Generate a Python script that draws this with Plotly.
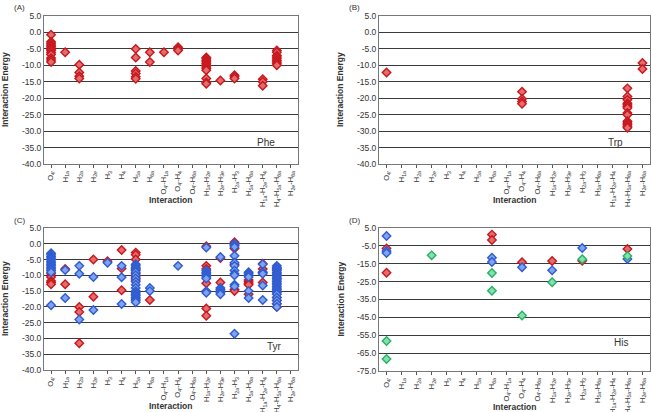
import plotly.graph_objects as go

categories = ["O<sub>4'</sub>", "H<sub>1a</sub>", "H<sub>2a</sub>", "H<sub>2e</sub>", "H<sub>3</sub>", "H<sub>4</sub>",
              "H<sub>5a</sub>", "H<sub>6a</sub>", "O<sub>4'</sub>-H<sub>1a</sub>", "O<sub>4'</sub>-H<sub>4</sub>",
              "O<sub>4'</sub>-H<sub>6a</sub>", "H<sub>1a</sub>-H<sub>2e</sub>", "H<sub>2e</sub>-H<sub>3e</sub>",
              "H<sub>2a</sub>-H<sub>3</sub>", "H<sub>5a</sub>-H<sub>6a</sub>", "H<sub>1a</sub>-H<sub>2e</sub>-H<sub>4</sub>",
              "H<sub>4</sub>-H<sub>5a</sub>-H<sub>6a</sub>", "H<sub>2e</sub>-H<sub>6a</sub>"]

# Panel A (Phe) - red: (category index, energy)
phe_red = {
    0: [-0.7, -2.8, -3.3, -3.8, -4.2, -4.7, -5.1, -5.6, -6.2, -6.7, -7.8, -8.4, -9.0],
    1: [-6.0],
    2: [-9.8, -12.2, -13.3, -14.0],
    6: [-5.0, -7.6, -11.7, -12.5, -13.5, -14.1],
    7: [-6.0, -9.0],
    8: [-6.0],
    9: [-4.5, -5.0, -5.5],
    11: [-7.6, -8.0, -8.5, -9.0, -9.5, -10.0, -10.5, -11.0, -11.5, -14.0, -15.2, -15.6],
    12: [-14.6],
    13: [-13.0, -13.5, -14.0],
    15: [-14.2, -15.0, -16.2],
    16: [-5.5, -6.0, -7.0, -7.5, -8.0, -8.5, -9.0, -9.5, -10.0],
}

# Panel B (Trp) - red
trp_red = {
    0: [-12.2],
    9: [-18.0, -20.2, -21.0, -21.7],
    16: [-17.0, -19.5, -20.5, -21.5, -22.0, -22.5, -23.0, -24.5, -25.0, -27.0, -27.5, -28.0, -28.5, -29.0],
    17: [-9.3, -11.1],
}

# Panel C (Tyr) - red and blue
tyr_red = {
    0: [-9.5, -10.5, -11.8, -12.3, -12.8],
    1: [-8.0, -12.8],
    2: [-20.0, -21.6, -31.5],
    3: [-5.0, -16.8],
    4: [-5.5],
    5: [-2.0, -7.8, -14.7],
    6: [-2.8, -3.5, -5.0, -8.0, -9.5, -10.5, -11.5],
    7: [-17.8],
    11: [-0.8, -7.0, -8.0, -12.5, -20.5, -22.8],
    12: [-4.5, -12.3],
    13: [0.5, -1.5, -6.5, -14.5, -15.0],
    14: [-11.5, -12.0, -12.5, -13.0, -16.0],
    15: [-6.3, -8.0, -9.0, -12.3],
    16: [-8.0, -10.0, -17.0, -18.0, -19.0, -20.0],
}
tyr_blue = {
    0: [-3.0, -3.5, -4.0, -4.5, -5.0, -5.5, -6.0, -6.5, -7.0, -7.5, -8.0, -8.5, -9.0, -19.5],
    1: [-8.3, -17.2],
    2: [-7.0, -9.5, -24.0],
    3: [-10.5, -21.0],
    4: [-6.0],
    5: [-7.0, -10.6, -19.1],
    6: [-6.5, -7.0, -7.5, -8.0, -8.5, -9.0, -10.0, -11.0, -12.0, -13.0, -14.0, -15.0, -15.5, -16.0, -16.5,
        -17.0, -17.5, -18.0, -18.5],
    7: [-14.0, -15.0],
    9: [-7.0],
    11: [-1.2, -8.5, -9.0, -9.5, -10.0, -10.5, -11.0, -15.0, -15.5],
    12: [-4.2, -14.0, -14.5, -15.0, -15.5, -16.0],
    13: [-0.3, 0.0, -0.5, -1.0, -3.8, -6.0, -7.0, -8.5, -9.5, -10.0, -13.0, -13.5, -28.5],
    14: [-9.0, -9.5, -10.0, -10.5, -15.0, -17.2],
    15: [-6.5, -9.0, -9.5, -13.2, -17.8],
    16: [-7.0, -7.5, -8.0, -8.5, -9.0, -9.5, -10.0, -10.5, -11.0, -11.5, -12.0, -12.5, -13.0, -13.5, -14.0,
         -14.5, -15.0, -15.5, -16.0, -17.0, -18.0, -19.0, -20.0],
}

# Panel D (His) - red, blue, green
his_red = {0: [-6.4, -20.0], 7: [1.3, -1.7], 9: [-14.2], 11: [-13.5], 13: [-13.3], 16: [-6.8]}
his_blue = {0: [0.5, -7.9, -9.0], 7: [-11.6, -14.0], 9: [-17.0], 11: [-18.7], 13: [-6.2], 16: [-12.4]}
his_green = {0: [-58.2, -68.3], 3: [-10.3], 7: [-20.2, -30.1], 9: [-43.9], 11: [-25.4], 13: [-12.5], 16: [-10.7]}

RED = dict(color="#E36C6C", line=dict(color="#C8161D", width=1.4))
BLUE = dict(color="#7FA3EE", line=dict(color="#2E5BD0", width=1.4))
GREEN = dict(color="#86E0AE", line=dict(color="#26B066", width=1.4))

W, H = 651, 412
panels = [
    dict(x=(44, 298), y=(16, 164), yr=(-40, 5), ticks=list(range(5, -41, -5)), tag="(A)", name="Phe",
         series=[(phe_red, RED)], name_xy=(15.2, -33.5)),
    dict(x=(379, 650), y=(16, 164), yr=(-40, 5), ticks=list(range(5, -41, -5)), tag="(B)", name="Trp",
         series=[(trp_red, RED)], name_xy=(15.2, -33.5)),
    dict(x=(44, 298), y=(228, 370), yr=(-40, 5), ticks=list(range(5, -41, -5)), tag="(C)", name="Tyr",
         series=[(tyr_red, RED), (tyr_blue, BLUE)], name_xy=(15.8, -32.5)),
    dict(x=(379, 650), y=(228, 371), yr=(-75, 5), ticks=list(range(5, -76, -10)), tag="(D)", name="His",
         series=[(his_red, RED), (his_blue, BLUE), (his_green, GREEN)], name_xy=(15.6, -59)),
]

fig = go.Figure()
annotations = []
for i, p in enumerate(panels):
    n = "" if i == 0 else str(i + 1)
    xa, ya = "x" + n, "y" + n
    for data, style in p["series"]:
        xs, ys = [], []
        for k, vals in data.items():
            for v in vals:
                xs.append(k)
                ys.append(v)
        fig.add_trace(go.Scatter(x=xs, y=ys, mode="markers", xaxis=xa, yaxis=ya, showlegend=False,
                                 marker=dict(symbol="diamond", size=6.5, **style)))
    dom_x = [p["x"][0] / W, p["x"][1] / W]
    dom_y = [1 - p["y"][1] / H, 1 - p["y"][0] / H]
    fig.layout["xaxis" + n] = dict(domain=dom_x, range=[-0.5, 17.5], tickvals=list(range(18)),
                                   ticktext=categories, tickangle=-90, ticks="outside", ticklen=3,
                                   tickcolor="#555", showgrid=False, zeroline=False, automargin=False,
                                   showline=True, linecolor="#777", linewidth=1, mirror=True,
                                   tickfont=dict(size=7.5, color="#333", family="Liberation Sans"),
                                   anchor=ya, fixedrange=True)
    fig.layout["yaxis" + n] = dict(domain=dom_y, range=list(p["yr"]), tickvals=p["ticks"],
                                   ticktext=[f"{t:.1f}" for t in p["ticks"]], showgrid=True,
                                   gridcolor="#3a3a3a", gridwidth=1, zeroline=False, showline=True,
                                   linecolor="#777", linewidth=1, mirror=True, ticks="", automargin=False,
                                   tickfont=dict(size=8.5, color="#333", family="Liberation Sans"),
                                   anchor=xa, fixedrange=True)
    cx = (p["x"][0] + p["x"][1]) / 2 / W
    annotations.append(dict(text="<b>Interaction</b>", x=cx, y=1 - (p["y"][1] + 36) / H, xref="paper",
                            yref="paper", showarrow=False, font=dict(size=8.5, color="#333"),
                            xanchor="center", yanchor="middle"))
    cy = 1 - (p["y"][0] + p["y"][1]) / 2 / H
    annotations.append(dict(text="<b>Interaction Energy</b>", x=(p["x"][0] - 39) / W, y=cy, xref="paper",
                            yref="paper", showarrow=False, textangle=-90, font=dict(size=8.5, color="#333"),
                            xanchor="center", yanchor="middle"))
    annotations.append(dict(text=p["tag"], x=(p["x"][0] - 32) / W, y=1 - (p["y"][0] - 8) / H, xref="paper",
                            yref="paper", showarrow=False, font=dict(size=8, color="#333"),
                            xanchor="left", yanchor="middle"))
    annotations.append(dict(text=p["name"], x=p["name_xy"][0], y=p["name_xy"][1], xref=xa, yref=ya,
                            showarrow=False, font=dict(size=10, color="#333"), xanchor="center",
                            yanchor="middle"))

fig.update_layout(width=W, height=H, margin=dict(l=0, r=0, t=0, b=0), plot_bgcolor="white",
                  paper_bgcolor="white", annotations=annotations,
                  font=dict(family="Liberation Sans"))
fig.write_html("out.html", config={"displayModeBar": False},
               post_script="document.body.style.margin='0';document.body.style.overflow='hidden';")
